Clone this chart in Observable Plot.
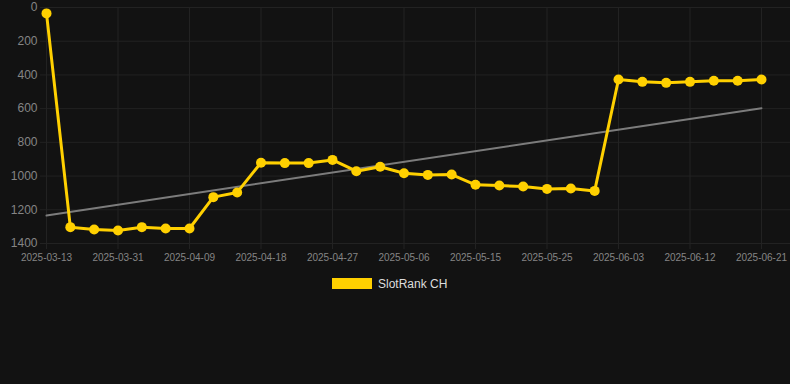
<!DOCTYPE html>
<html><head><meta charset="utf-8">
<script src="https://cdn.jsdelivr.net/npm/d3@7"></script>
<script src="https://cdn.jsdelivr.net/npm/@observablehq/plot@0.6"></script>
<style>
html,body{margin:0;padding:0;background:#121212;}
#wrap{position:relative;width:790px;height:384px;background:#121212;overflow:hidden;}
#legend{position:absolute;left:0;top:277px;width:790px;height:14px;font-family:"Liberation Sans",Arial,sans-serif;font-size:12px;color:#dddddd;}
#legend .sw{position:absolute;left:332px;top:1px;width:40px;height:11px;background:#FFD000;}
#legend .lb{position:absolute;left:378px;top:0;line-height:14px;white-space:nowrap;}
</style></head><body>
<div id="wrap"><div id="chart"></div><div id="legend"><span class="sw"></span><span class="lb">SlotRank CH</span></div></div>
<script>
const dates = ["2025-03-13","2025-03-19","2025-03-25","2025-03-31","2025-04-03","2025-04-06","2025-04-09","2025-04-12","2025-04-15","2025-04-18","2025-04-21","2025-04-24","2025-04-27","2025-04-30","2025-05-03","2025-05-06","2025-05-09","2025-05-12","2025-05-15","2025-05-18","2025-05-22","2025-05-25","2025-05-28","2025-05-31","2025-06-03","2025-06-06","2025-06-09","2025-06-12","2025-06-15","2025-06-18","2025-06-21"];
const ranks = [35,1303,1317,1323,1303,1311,1311,1125,1097,921,923,923,904,971,945,983,993,991,1052,1056,1062,1076,1074,1088,427,441,447,441,435,435,427];
const trendDates = ["2025-03-13","2025-06-21"];
const trendValues = [1234,597];
const yTicks = [0,200,400,600,800,1000,1200,1400];
const xTickLabels = ["2025-03-13","2025-03-31","2025-04-09","2025-04-18","2025-04-27","2025-05-06","2025-05-15","2025-05-25","2025-06-03","2025-06-12","2025-06-21"];
const seriesName = "SlotRank CH";

const data = dates.map((d,i)=>({idx:i, date:d, rank:ranks[i]}));
const trend = trendDates.map((d,i)=>({idx:dates.indexOf(d), rank:trendValues[i]}));
const xTickIdx = xTickLabels.map(d=>dates.indexOf(d));
const grid = "#222222";
const plot = Plot.plot({
  width:790, height:270,
  marginLeft:46, marginRight:29, marginTop:7, marginBottom:27,
  style:{background:"#121212", color:"#888", fontFamily:"'Liberation Sans', Arial, sans-serif", fontSize:"10px"},
  x:{type:"linear", domain:[0, dates.length-1], label:null},
  y:{domain:[0,1400], reverse:true, label:null},
  marks:[
    Plot.ruleY(yTicks,{stroke:grid, insetLeft:-6, insetRight:-29}),
    Plot.ruleX(xTickIdx,{stroke:grid}),
    Plot.axisY(yTicks,{tickSize:0, tickPadding:9, fontSize:12, fill:"#858585", label:null, tickFormat:d=>String(d)}),
    Plot.axisX(xTickIdx,{tickSize:6, tickPadding:4, stroke:grid, fontSize:10, fill:"#858585", label:null, tickFormat:i=>dates[i]}),
    Plot.line(trend,{x:"idx", y:"rank", stroke:"#7c7c7c", strokeWidth:2}),
    Plot.line(data,{x:"idx", y:"rank", stroke:"#FFD000", strokeWidth:3}),
    Plot.dot(data,{x:"idx", y:"rank", fill:"#FFD000", r:5, title:d=>seriesName + " " + d.date + ": " + d.rank})
  ]
});
document.getElementById("chart").appendChild(plot);
</script>
</body></html>
